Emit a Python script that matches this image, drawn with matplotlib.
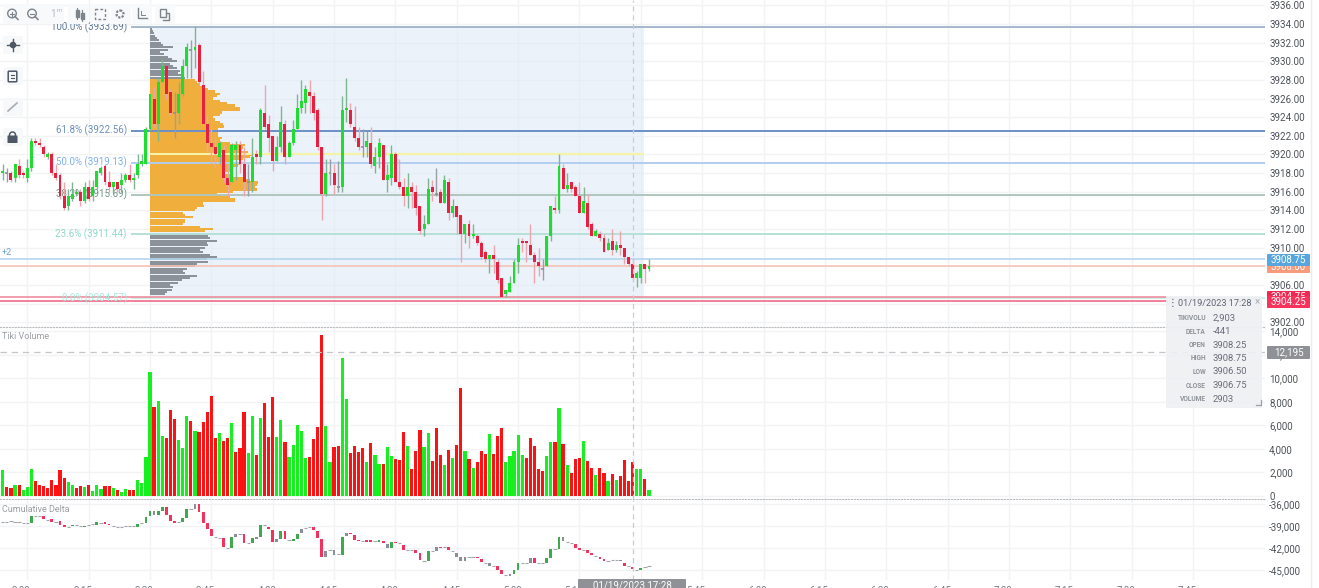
import numpy as np
import matplotlib
matplotlib.use("Agg")
import matplotlib.pyplot as plt
from matplotlib.patches import Rectangle, FancyBboxPatch, Circle
from matplotlib.transforms import ScaledTranslation

plt.rcParams['font.family'] = ['Roboto', 'DejaVu Sans']

W, H = 1319, 588

# bars are numbered from the 15:30 session start
first_bar = -36

price_open = [
    3918, 3918, 3918, 3917.5, 3918.75, 3918, 3917.5, 3918.5, 3921.5, 3921.25,
    3920.75, 3919.75, 3920, 3918, 3917.75, 3915.5, 3914.5, 3915.25, 3915.75, 3916,
    3915, 3916.5, 3915.5, 3916.5, 3918, 3918.75, 3917, 3916.5, 3917, 3916.75,
    3917.25, 3917.75, 3917.25, 3917.75, 3919, 3919, 3922.75, 3926, 3923.25, 3927.75,
    3929.5, 3926.75, 3924.5, 3924.5, 3926.5, 3929.5, 3931.25, 3931.25, 3931.75, 3927.5,
    3923.25, 3921.25, 3920.75, 3919.75, 3920.5, 3917.5, 3917, 3920.5, 3921, 3919,
    3917, 3917, 3920, 3919.75, 3924.5, 3923.25, 3922, 3919.25, 3920.75, 3923.25,
    3919.75, 3921.25, 3922.75, 3925, 3925.5, 3926.75, 3926.25, 3924.75, 3920.75, 3915.75,
    3918, 3918, 3916.5, 3916.5, 3924.75, 3924.75, 3923, 3921.75, 3920.75, 3920.75,
    3921.25, 3918.75, 3919.75, 3921, 3917.25, 3917.5, 3920, 3917, 3916.5, 3915.5,
    3916.5, 3916, 3914.5, 3912, 3912.5, 3916.5, 3915.75, 3916, 3914.75, 3917,
    3913.75, 3914.5, 3913.5, 3911.5, 3912.5, 3911.25, 3911.25, 3910.5, 3909.5, 3908.75,
    3909.25, 3908.5, 3906.75, 3905, 3905.25, 3906.25, 3908.5, 3910.75, 3910.75, 3910.25,
    3909.25, 3908.5, 3907.75, 3908, 3911.25, 3914.25, 3914, 3918.5, 3916.25, 3917,
    3916.5, 3915.5, 3913.75, 3914.75, 3912.5, 3911.25, 3911.5, 3911, 3909.75, 3910.75,
    3909.75, 3910.25, 3910, 3909, 3908.25, 3906.75, 3906.75, 3908.25, 3907.75,
]
price_high = [
    3919, 3918.5, 3918.25, 3919, 3919.5, 3918.25, 3919.5, 3921.75, 3921.75, 3921.75,
    3921, 3920.25, 3920.25, 3919, 3918, 3917, 3916.25, 3917, 3916.25, 3916.25,
    3917, 3917.25, 3917.25, 3918.25, 3918.75, 3919, 3918.25, 3917, 3917, 3918,
    3918, 3919, 3918, 3920, 3920, 3923, 3926.5, 3927.25, 3928.25, 3930.25,
    3929.5, 3927, 3926.75, 3927.75, 3930.25, 3932, 3932.25, 3933.75, 3932, 3929,
    3924.25, 3922.75, 3921.75, 3921.5, 3921, 3919, 3921.25, 3921.5, 3921.5, 3920.75,
    3919, 3921.75, 3920.5, 3925, 3927.5, 3924.25, 3922, 3922, 3925.25, 3923.75,
    3921.5, 3923.75, 3926.5, 3928, 3927.5, 3928, 3926.75, 3925, 3920.75, 3919.5,
    3919.5, 3919, 3919.25, 3926.25, 3928.25, 3925.5, 3925.25, 3923, 3922.75, 3922.5,
    3923, 3920.75, 3921.75, 3921, 3919, 3921, 3920.25, 3919.5, 3917.5, 3918,
    3917, 3916.75, 3914.5, 3913.5, 3917.5, 3917.25, 3918.5, 3916.25, 3917.75, 3917.5,
    3915.25, 3914.5, 3913.5, 3912.5, 3913, 3912.5, 3911.5, 3910.75, 3909.75, 3909.25,
    3910.25, 3908.75, 3906.75, 3905.5, 3907, 3908.75, 3911, 3911, 3910.75, 3912.5,
    3909.5, 3910, 3908.75, 3911.25, 3914.5, 3915.5, 3920, 3919, 3918, 3917,
    3916.75, 3917, 3916.5, 3915.75, 3912.75, 3912, 3911.75, 3911.5, 3911, 3912,
    3910.75, 3911.75, 3910, 3909, 3908.75, 3907.5, 3908.25, 3908.25, 3908.75,
]
price_low = [
    3917.25, 3917, 3917, 3917, 3917.5, 3917.5, 3917, 3918.25, 3921, 3920.75,
    3919.75, 3919.5, 3917.75, 3917.25, 3915.25, 3914, 3914, 3915, 3915.5, 3914.5,
    3914.75, 3915, 3915, 3916.25, 3917.75, 3916.75, 3916, 3916, 3916, 3916,
    3917, 3917, 3916.25, 3917.5, 3918.75, 3919, 3922.5, 3923, 3921.5, 3927.75,
    3926, 3924.25, 3921.75, 3923.25, 3926.25, 3928.25, 3928.25, 3929.25, 3927.5, 3923.25,
    3920.25, 3919, 3918.5, 3919, 3917, 3915.5, 3917, 3917.25, 3918, 3915.5,
    3915.5, 3916, 3919, 3919, 3922.75, 3920.25, 3918.25, 3919.25, 3920.25, 3919,
    3919.75, 3921, 3922.75, 3924.5, 3924.5, 3924.5, 3923.75, 3920.5, 3913, 3915.5,
    3916.75, 3915.75, 3916, 3916, 3923.5, 3923, 3921.5, 3920.5, 3919.75, 3919.75,
    3918.5, 3918, 3918.5, 3917.25, 3916, 3916.75, 3917, 3916.25, 3914.5, 3914.25,
    3914.25, 3913.5, 3911.5, 3911.25, 3912.5, 3915, 3915.5, 3914.75, 3914.75, 3913,
    3913.25, 3911.5, 3908.5, 3910.5, 3910, 3911, 3910.25, 3908.75, 3908.5, 3907.25,
    3907.25, 3906.25, 3904.75, 3904.75, 3905.25, 3906.25, 3907.25, 3909.5, 3908.5, 3909.25,
    3906.25, 3907, 3906.5, 3908, 3910.75, 3913.75, 3913.75, 3916.25, 3916, 3916,
    3915.5, 3913.75, 3913.75, 3912, 3911.25, 3911.25, 3910.75, 3909.5, 3909.75, 3909.25,
    3909.5, 3909.25, 3908.25, 3908, 3906.5, 3905.75, 3906.25, 3906.25, 3907.5,
]
price_close = [
    3918.25, 3918, 3917.25, 3919, 3917.75, 3917.75, 3918.5, 3921.5, 3921.25, 3921,
    3920, 3920, 3918, 3917.5, 3915.5, 3914.25, 3915.5, 3915.75, 3916, 3915,
    3916.5, 3915.25, 3916.5, 3918.25, 3918.5, 3917, 3916.5, 3917, 3916.25, 3917.25,
    3917.75, 3917.25, 3917.5, 3919, 3919.25, 3922.75, 3926.5, 3923.25, 3927.75, 3929.5,
    3926.5, 3924.5, 3924.5, 3926.5, 3929.5, 3931.5, 3931.25, 3931.5, 3927.75, 3923.25,
    3921.25, 3920.75, 3920, 3921.25, 3917.5, 3916.75, 3921, 3921, 3919, 3917,
    3917, 3919.75, 3919.75, 3924.75, 3923, 3921.75, 3919.25, 3920.75, 3923.5, 3919.75,
    3921.25, 3922.75, 3925, 3925.75, 3927, 3926.25, 3924.5, 3920.75, 3915.75, 3918,
    3918, 3916.75, 3916.5, 3924.75, 3925, 3923.25, 3921.75, 3920.75, 3920.75, 3921.5,
    3919, 3919.75, 3921.25, 3917.25, 3917.75, 3920, 3917, 3916.5, 3915.5, 3916.5,
    3916, 3914.25, 3911.75, 3912.5, 3916.25, 3916, 3915.75, 3914.75, 3917.25, 3913.75,
    3914.5, 3913.25, 3911.5, 3912.5, 3911.25, 3911.5, 3910.5, 3909, 3908.75, 3909.25,
    3908.75, 3906.5, 3904.75, 3905.5, 3906.25, 3908.5, 3910.25, 3910.5, 3910.5, 3909.25,
    3908.5, 3908, 3907.75, 3911.25, 3914.5, 3914, 3918.75, 3916.25, 3916.75, 3916.25,
    3915.5, 3913.75, 3915, 3912.25, 3911.25, 3911.75, 3911, 3909.5, 3910.5, 3909.75,
    3910.25, 3910, 3909, 3908.25, 3906.75, 3907.25, 3908.25, 3907.75, 3908,
]

volume = [
    2200, 800, 680, 930, 960, 510, 735, 2320, 1245, 930,
    850, 700, 1330, 930, 2200, 1530, 1220, 930, 700, 820,
    735, 900, 450, 930, 620, 850, 850, 700, 480, 370,
    570, 510, 510, 1330, 1075, 3340, 10550, 7530, 8100, 5100,
    4950, 7300, 6500, 4750, 4050, 6800, 6400, 5500, 5430, 6280,
    7100, 8490, 4900, 5320, 4670, 4900, 6230, 3700, 4050, 7160,
    3620, 6760, 3450, 6600, 7920, 4980, 8430, 4980, 6420, 4610,
    3280, 4360, 6000, 5520, 3230, 3340, 4870, 5860, 13640, 5970,
    2860, 4130, 4245, 11690, 8235, 3650, 4220, 3735, 4050, 2890,
    4470, 3510, 2745, 2715, 4130, 3370, 3140, 3030, 5405, 4245,
    2265, 3850, 5575, 4130, 5320, 2940, 5800, 3510, 2600, 3880,
    3200, 4360, 9140, 3820, 3170, 2350, 2890, 3790, 3570, 5235,
    3590, 5120, 5800, 2890, 3370, 3820, 5150, 3480, 3230, 4950,
    4270, 2265, 2120, 3370, 4560, 4610, 7500, 4415, 2660, 1925,
    3110, 3200, 4700, 2940, 2380, 1810, 2350, 1925, 1270, 1840,
    1360, 1670, 3080, 1245, 2903, 2265, 2265, 1415, 480,
]
volume_side = (
    "GRRGRGGGRR" "RRRRRRGGRR" "GRGGGRRGRG" "GRRGGGGRGG"
    "RRRGGGRGRR" "RRRGRRGRRR" "GGRGRRRGGR" "GGGGGRRRRG"
    "GRRGGRRRRG" "RGGRGGRRRG" "RRRGGRRRGR" "GRRGRGRRRG"
    "RRRGGGGGRR" "RRRGGRGRGR" "RRGRRGRRGR" "GRRRRGGRG"
)

delta_open = [
    -38450, -38400, -38350, -38400, -38450, -38550, -38550, -38550, -37600, -37650,
    -37650, -38200, -38000, -38500, -38350, -38850, -39100, -39050, -38900, -39000,
    -39100, -38900, -38750, -38800, -38550, -38500, -38750, -39050, -39100, -39100,
    -39050, -39050, -39050, -39100, -38650, -38650, -37650, -36950, -37500, -36900,
    -36450, -37450, -38350, -38500, -38500, -37900, -36700, -36000, -36000, -37100,
    -38550, -39350, -40450, -40600, -40600, -42000, -42050, -40100, -40100, -40050,
    -41350, -41350, -40550, -40550, -38900, -39100, -39550, -40750, -40750, -39750,
    -40950, -41000, -40750, -39450, -39300, -39200, -39200, -39750, -40750, -42450,
    -42250, -42250, -42800, -42900, -40000, -39950, -40250, -40900, -41100, -40850,
    -40850, -41000, -41250, -41000, -41450, -42000, -41150, -41350, -41550, -42250,
    -42250, -42250, -42750, -43800, -43800, -42450, -41800, -41800, -41850, -41800,
    -42450, -42650, -43250, -43200, -43200, -43200, -43250, -43450, -44000, -44000,
    -44450, -44450, -45000, -45750, -45550, -45550, -45000, -44000, -44000, -43300,
    -43300, -44000, -44000, -44000, -43300, -42100, -42100, -40450, -41250, -41350,
    -41450, -42000, -42250, -42250, -42650, -43100, -43200, -43550, -43750, -43650,
    -43650, -43650, -44000, -44450, -44550, -45000, -45000, -44650, -44500,
]
delta_close = [
    -38450, -38400, -38350, -38400, -38450, -38550, -38550, -37650, -37600, -37650,
    -38050, -38200, -38400, -38500, -38850, -39200, -39100, -38900, -38900, -39000,
    -38950, -38900, -38750, -38500, -38550, -38750, -38900, -39050, -39100, -39100,
    -39050, -39050, -39050, -38700, -38650, -37750, -36900, -37500, -36900, -36450,
    -37500, -38300, -38550, -38500, -37850, -36700, -36700, -36700, -37100, -38650,
    -39350, -40400, -40450, -40600, -41800, -42000, -40550, -40550, -40100, -41350,
    -41350, -40700, -40800, -38900, -38900, -39450, -41150, -41250, -39750, -40800,
    -40950, -40750, -40050, -40000, -39300, -39200, -39600, -40650, -43200, -43200,
    -42250, -42900, -42800, -40450, -40350, -40150, -40850, -41100, -41100, -41250,
    -41250, -41000, -40900, -41350, -42000, -41250, -41350, -41350, -42250, -42250,
    -42250, -42650, -43650, -43800, -42450, -42450, -42450, -42050, -41850, -42250,
    -42450, -43250, -43800, -43800, -43200, -43200, -43400, -43900, -44000, -44400,
    -44450, -45000, -45600, -45750, -45800, -45000, -44000, -44000, -44000, -44000,
    -44000, -44000, -44000, -43300, -42100, -42100, -40450, -41100, -41250, -41350,
    -42000, -42250, -42250, -42650, -43000, -43100, -43550, -43800, -43750, -43650,
    -43650, -43800, -44450, -44450, -44900, -45000, -44700, -44650, -44500,
]
# bars the delta study paints grey
delta_grey_bars = [1, 11, 21, 26, 31, 37, 43, 45, 48, 58, 70, 75, 76, 77, 83, 88, 93, 101, 115]

# volume profile, top of the range downwards, 0.25 a level
profile_top_price = 3933.5
profile_upper = [20, 30, 40, 50, 70, 90, 110, 130, 230, 180, 100, 140, 180, 220, 270, 200, 230, 270, 300, 280, 320, 350]
profile_value_area = [
    450, 470, 500, 540, 580, 650, 700, 670, 630, 700, 770, 850, 900, 900, 720, 700, 630,
    650, 700, 730, 740, 680, 630, 680, 680, 720, 700, 800, 950, 930, 920, 980, 1020, 1000,
    930, 800, 900, 880, 830, 800, 730, 830, 930, 1000, 1080, 1070, 1050, 1070, 830, 670,
    800, 850, 850, 530, 540, 470, 450, 330, 350, 430, 350, 350, 330, 500, 630, 550,
]
profile_lower = [
    480, 580, 600, 670, 570, 580, 550, 500, 530, 600, 670, 570, 580, 470,
    450, 370, 330, 350, 470, 400, 320, 280, 200, 230, 220, 170, 150,
]

fib_levels = [3933.69, 3922.56, 3919.13, 3915.69, 3911.44, 3904.57]
fib_names = ["100.0%", "61.8%", "50.0%", "38.2%", "23.6%", "0.0%"]
fib_line_colors = ['#a5b8cb', '#6b90c6', '#b2cdee', '#b0c6bd', '#b5e0d8', '#c9efe6']
fib_text_colors = ['#5d7896', '#6d8fbb', '#7fb0ea', '#6f9484', '#8fd8c8', '#a8ecdc']

bid_price, ask_price = 3908.75, 3908.0
stop_price, limit_price = 3904.75, 3904.25
poc_price = 3920.0
crosshair_bar = 118
crosshair_volume = 12195

price_ticks = list(range(3902, 3937, 2))
volume_ticks = list(range(0, 14001, 2000))
delta_ticks = [-36000, -39000, -42000, -45000]
time_tick_bars = list(range(-30, 256, 15))
time_tick_labels = ["3:00", "3:15", "3:30", "3:45", "4:00", "4:15", "4:30", "4:45", "5:00", "5:15",
                    "5:30", "5:45", "6:00", "6:15", "6:30", "6:45", "7:00", "7:15", "7:30", "7:45"]

tooltip_rows = [("TIKIVOLU", "2,903"), ("DELTA", "-441"), ("OPEN", "3908.25"), ("HIGH", "3908.75"),
                ("LOW", "3906.50"), ("CLOSE", "3906.75"), ("VOLUME", "2903")]

GREEN, RED, GREY = '#1edd30', '#e8203f', '#8c9299'
TICK_COLOR = '#4d5258'
GRID = '#f2f3f5'

bar_px = 4.09
x_left = -150 / bar_px
x_right = (1265 - 150) / bar_px
fib_start, zone_end = (131 - 150) / bar_px, (644 - 150) / bar_px

x = np.arange(first_bar, first_bar + len(price_open))
o, h, l, c = [np.array(v, float) for v in (price_open, price_high, price_low, price_close)]


def panel(top, bottom):
    ax = fig.add_axes([0, 1 - bottom / H, 1265 / W, (bottom - top) / H])
    ax.set_xlim(x_left, x_right)
    for s in ax.spines.values():
        s.set_visible(False)
    ax.yaxis.tick_right()
    ax.set_xticks(time_tick_bars)
    ax.tick_params(length=0, labelsize=7, labelcolor=TICK_COLOR, pad=3)
    ax.tick_params(axis='x', labelbottom=False)
    ax.grid(True, color=GRID, lw=1)
    ax.set_axisbelow(True)
    return ax


fig = plt.figure(figsize=(W / 100, H / 100), dpi=100, facecolor='white')

# price panel
ax1 = panel(0, 326)
ax1.set_ylim(3934 - 302 / 9.32, 3934 + 24 / 9.32)
ax1.set_yticks(price_ticks)
ax1.set_yticklabels([f"{p:.2f}" for p in price_ticks])
ax1.add_patch(Rectangle((0, fib_levels[-1]), zone_end, fib_levels[0] - fib_levels[-1],
                        facecolor='#dbe9f6', alpha=0.55, edgecolor='none', zorder=1))

# profile lengths are scaled so 10 contracts take one pixel
profile_scale = 1 / (10 * bar_px)
n_up, n_va, n_low = len(profile_upper), len(profile_value_area), len(profile_lower)
profile_y = profile_top_price - 0.25 * np.arange(n_up + n_va + n_low)
ax1.barh(profile_y[:n_up], np.array(profile_upper) * profile_scale, height=0.22, color='#8b9299', zorder=2)
ax1.barh(profile_y[n_up:n_up + n_va], np.array(profile_value_area) * profile_scale, height=0.235,
         color='#f0ae3c', zorder=2)
ax1.barh(profile_y[n_up + n_va:], np.array(profile_lower) * profile_scale, height=0.22, color='#8b9299', zorder=2)

ax1.hlines(poc_price, 0, zone_end, color='#f6f2a6', lw=1.5, zorder=2.5)
ax1.hlines(fib_levels, fib_start, x_right, colors=fib_line_colors, lw=1.4, zorder=3)
for lv, name, col in zip(fib_levels, fib_names, fib_text_colors):
    ax1.text(fib_start - 1, lv, f"{name} ({lv:.2f})", ha='right', va='center', fontsize=7,
             color=col, zorder=3.2)
ax1.hlines([bid_price, ask_price], x_left, x_right, colors=['#b5d6f0', '#f8c4b6'], lw=1.2, zorder=3)
ax1.hlines([stop_price, limit_price], x_left, (1168 - 150) / bar_px, colors=['#ef8494', '#ee5f80'], lw=1.1, zorder=3)
ax1.text(x_left + 0.5, bid_price + 0.75, "+2", fontsize=6.5, color='#6aa5dc', va='center')

# candles
wick_cols = np.where(c > o, '#7fb591', np.where(c < o, '#eea6ae', '#9aa0a6'))
body_cols = np.where(c > o, GREEN, np.where(c < o, RED, GREY))
ax1.vlines(x, l, h, colors=wick_cols, lw=1, zorder=4)
body = c != o
ax1.bar(x[body], np.abs(c - o)[body], bottom=np.minimum(o, c)[body], width=0.72, color=body_cols[body], zorder=5)
ax1.hlines(o[~body], x[~body] - 0.35, x[~body] + 0.35, colors=GREY, lw=1.2, zorder=5)
ax1.axvline(crosshair_bar, color='#c9cdd1', lw=0.9, ls=(0, (4, 3)), zorder=6)

# tiki volume panel
ax2 = panel(327, 499)
ax2.set_ylim(-3 / 0.011786, 169 / 0.011786)
ax2.set_yticks(volume_ticks)
ax2.set_yticklabels([f"{v:,}" for v in volume_ticks])
vol_cols = ['#16f01e' if s == 'G' else '#fb1212' for s in volume_side]
ax2.bar(x, volume, width=0.78, color=vol_cols, zorder=3)
ax2.axhline(crosshair_volume, color='#c4c6c9', lw=0.9, ls=(0, (5, 4)), zorder=4)
ax2.axvline(crosshair_bar, color='#c9cdd1', lw=0.9, ls=(0, (4, 3)), zorder=4)
ax2.spines['top'].set_visible(True)
ax2.spines['top'].set_linestyle(':')
ax2.spines['top'].set_color('#b9bcc0')
ax2.spines['bottom'].set_visible(True)
ax2.spines['bottom'].set_linestyle(':')
ax2.spines['bottom'].set_color('#b9bcc0')
ax2.text(0.0015, 0.945, "Tiki Volume", transform=ax2.transAxes, fontsize=6.5, color='#9b9ea3', va='center')

# cumulative delta panel
ax3 = panel(500, 580)
ax3.set_ylim(-36000 - 76000 / 7.33 * 1, -36000 + 4000 / 7.33)
ax3.set_yticks(delta_ticks)
ax3.set_yticklabels([f"{v:,}" for v in delta_ticks])
d_o, d_c = np.array(delta_open, float), np.array(delta_close, float)
d_cols = np.where(d_c > d_o, '#3fa94f', '#f0325c').astype(object)
d_cols[np.isin(x, delta_grey_bars)] = '#8a8f99'
d_body = d_o != d_c
ax3.bar(x[d_body], np.abs(d_c - d_o)[d_body], bottom=np.minimum(d_o, d_c)[d_body], width=0.68,
        color=list(d_cols[d_body]), zorder=3)
ax3.hlines(d_o[~d_body], x[~d_body] - 0.4, x[~d_body] + 0.4, colors='#a3a7ad', lw=0.8, zorder=3)
ax3.axvline(crosshair_bar, color='#c9cdd1', lw=0.9, ls=(0, (4, 3)), zorder=4)
ax3.text(0.0015, 0.88, "Cumulative Delta", transform=ax3.transAxes, fontsize=6.5, color='#9b9ea3', va='center')
ax3.set_xticklabels(time_tick_labels)
# the screenshot cuts the time labels at the bottom edge
ax3.tick_params(axis='x', labelbottom=True, pad=4.5, labelcolor='#777c82')
shift = ScaledTranslation(-6 / 100, 0, fig.dpi_scale_trans)
for lab in ax3.get_xticklabels():
    lab.set_transform(lab.get_transform() + shift)

# overlay for toolbar, price tags and tooltip, in pixels
ov = fig.add_axes([0, 0, 1, 1], zorder=10)
ov.set_xlim(0, W)
ov.set_ylim(H, 0)
ov.axis('off')


def tag(x0, y0, x1, y1, color, text, zorder=11):
    ov.add_patch(FancyBboxPatch((x0 + 1, y0 + 1), x1 - x0 - 2, y1 - y0 - 2, boxstyle='round,pad=1',
                                facecolor=color, edgecolor='none', zorder=zorder))
    ov.text((x0 + x1) / 2, (y0 + y1) / 2, text, ha='center', va='center', fontsize=7, color='white', zorder=zorder)


ov.plot([1311, 1311], [0, H], color='#eceef0', lw=1)
tag(1267, 262, 1310, 273, '#f79b7c', "3908.00", 11)
tag(1267, 254, 1310, 266, '#58a6dd', "3908.75", 12)
tag(1267, 291, 1310, 303, '#f0284f', "3904.75", 11)
tag(1267, 296, 1310, 308, '#f5335b', "3904.25", 12)
tag(1267, 346, 1310, 359, '#8e9196', f"{crosshair_volume:,}", 12)
tag(578, 579, 686, 592, '#8e9196', "01/19/2023 17:28", 12)

# tooltip
ov.add_patch(Rectangle((1166, 296), 96, 112, facecolor='#eef0f3', edgecolor='none', alpha=0.93, zorder=13))
ov.text(1172, 303, "⋮", fontsize=7, color='#555', ha='center', va='center', zorder=14, family='DejaVu Sans')
ov.text(1178, 303.5, "01/19/2023 17:28", fontsize=6.6, color='#5f6472', va='center', zorder=14)
ov.text(1257, 302.5, "×", fontsize=7, color='#a5a8ae', ha='center', va='center', zorder=14)
for i, (name, value) in enumerate(tooltip_rows):
    yy = 318 + i * 13.5
    ov.text(1206, yy, name, fontsize=4.8, color='#8f939a', ha='right', va='center', weight='bold', zorder=14)
    ov.text(1213, yy, value, fontsize=6.8, color='#6a6e7c', va='center', zorder=14)
ov.plot([1256, 1261, 1261], [405, 405, 400], color='#9ba0a6', lw=0.9, zorder=14)

# toolbar boxes
ICON = '#7c848c'
for bx, bw in [(3, 60), (44, 20), (68, 21), (90, 20), (111, 20), (132, 20), (155, 20)]:
    ov.add_patch(FancyBboxPatch((bx + 2, 6), bw - 4, 16, boxstyle='round,pad=2', facecolor='#f8f9fa', edgecolor='none'))
for by in (45, 76, 107, 137):
    ov.add_patch(FancyBboxPatch((5, by - 7), 16, 14, boxstyle='round,pad=2', facecolor='#f7f8fa', edgecolor='none'))

# zoom buttons
for cx, plus in [(12, True), (32, False)]:
    ov.add_patch(Circle((cx, 13.5), 4.3, fill=False, ec=ICON, lw=1))
    ov.plot([cx + 3, cx + 6], [16.5, 19.5], color=ICON, lw=1.1)
    ov.plot([cx - 2, cx + 2], [13.5, 13.5], color=ICON, lw=0.8)
    if plus:
        ov.plot([cx, cx], [11.5, 15.5], color=ICON, lw=0.8)
ov.text(53, 14, "1", fontsize=7, color='#b4b8bd', ha='center', va='center')
ov.text(59, 11, "m", fontsize=4.5, color='#b4b8bd', ha='center', va='center')
# candle icon
ov.plot([77, 77], [8, 19], color=ICON, lw=0.8)
ov.plot([82, 82], [10, 21], color=ICON, lw=0.8)
ov.add_patch(Rectangle((75.5, 10), 3, 7, color=ICON))
ov.add_patch(Rectangle((80.5, 13), 3, 6, color=ICON))
# box select
ov.add_patch(Rectangle((95, 9), 10, 10, fill=False, ec=ICON, lw=1, ls=(0, (2, 1.5))))
# gear
ov.add_patch(Circle((120, 14), 3.5, fill=False, ec=ICON, lw=1.6, ls=(0, (1, 0.6))))
# axes
ov.plot([138, 138, 147], [8, 18, 18], color=ICON, lw=1)
ov.plot([141, 141, 145], [11, 15, 15], color=ICON, lw=0.7)
# pages
ov.add_patch(Rectangle((160, 9), 6, 8, fill=False, ec=ICON, lw=1))
ov.plot([166, 169, 169, 163], [13, 13, 20, 20], color=ICON, lw=1)

# side buttons
DARK = '#4e5864'
ov.plot([13, 13], [39, 51], color=DARK, lw=1)
ov.plot([7, 19], [45, 45], color=DARK, lw=1)
ov.add_patch(Circle((13, 45), 2.6, color=DARK))
ov.add_patch(FancyBboxPatch((9, 72), 7, 9, boxstyle='round,pad=0.8', fill=False, ec=DARK, lw=1.1))
ov.plot([11, 14], [75, 75], color=DARK, lw=0.8)
ov.plot([11, 14], [78, 78], color=DARK, lw=0.8)
ov.plot([8, 17], [111, 103], color='#a8adb3', lw=1.2)
ov.add_patch(FancyBboxPatch((8, 136), 9, 6.5, boxstyle='round,pad=0.5', facecolor=DARK, edgecolor='none'))
ov.add_patch(Circle((12.5, 135), 3, fill=False, ec=DARK, lw=1.1))

fig.savefig("out.png", dpi=100)
